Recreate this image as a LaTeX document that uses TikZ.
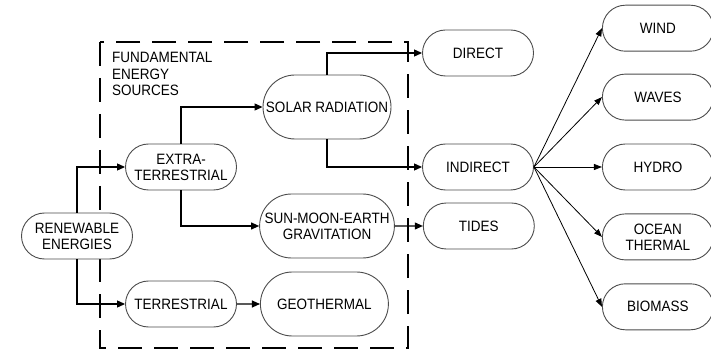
\documentclass[tikz,border=0pt]{standalone}
\usepackage{fontspec}
\setmainfont[FakeStretch=0.9]{Liberation Sans}
\usetikzlibrary{shapes.misc, arrows.meta, positioning}

\begin{document}
\begin{tikzpicture}[x=1pt, y=1pt, node distance=23pt,
        font=\fontsize{15}{16}\selectfont,
        block/.style={rounded rectangle, draw=black!70, fill=white, line width=0.9pt, align=center, minimum width=115pt, minimum height=46pt, inner sep=2pt},
        bigblock/.style={block, minimum width=132pt, minimum height=64pt},
        line/.style={draw, -{Triangle[length=8pt, width=7pt]}, line width=1.1pt},
        fan/.style={draw, -{Triangle[length=8pt, width=6pt]}, line width=0.8pt},
        frame/.style={draw, line width=2.6pt, dash pattern=on 24pt off 12pt}]

    \useasboundingbox (0,0) rectangle (711,-352);

    % fundamental energy sources
    \draw [frame] (100,-42) rectangle (408,-348);
    \node [anchor=north west, align=left, inner sep=0pt, font=\fontsize{15}{16.5}\selectfont] (fes) at (112,-52) {FUNDAMENTAL\\ENERGY\\SOURCES};

    \node [block] (renew) at (77,-236) {RENEWABLE\\ENERGIES};
    \node [block] (extra) at (181,-167) {EXTRA-\\TERRESTRIAL};
    \node [block] (terr) at (181,-304) {TERRESTRIAL};
    \node [bigblock] (solar) at (327,-107) {SOLAR RADIATION};
    \node [bigblock] (gravity) at (327,-226) {SUN-MOON-EARTH\\GRAVITATION};
    \node [bigblock, right=of terr] (geo) {GEOTHERMAL};

    \node [block] (direct) at (478,-53) {DIRECT};
    \node [block] (indirect) at (478,-167) {INDIRECT};
    \node [block, right=28pt of gravity] (tides) {TIDES};

    % indirect forms
    \node [block, right=68pt of indirect] (hydro) {HYDRO};
    \node [block, above=of hydro] (waves) {WAVES};
    \node [block, above=22pt of waves] (wind) {WIND};
    \node [block, below=of hydro] (ocean) {OCEAN\\THERMAL};
    \node [block, below=of ocean] (biomass) {BIOMASS};

    \path [line] (renew.north) |- (extra.west);
    \path [line] (renew.south) |- (terr.west);
    \path [line] (extra.north) |- (solar.west);
    \path [line] (extra.south) |- (gravity.west);
    \path [line] (terr) -- (geo);
    \path [line] (solar.north) |- (direct.west);
    \path [line] (solar.south) |- (indirect.west);
    \path [line] (gravity) -- (tides);

    \foreach \n in {wind, waves, hydro, ocean, biomass}
        \path [fan] (indirect.east) -- (\n.west);
\end{tikzpicture}
\end{document}
